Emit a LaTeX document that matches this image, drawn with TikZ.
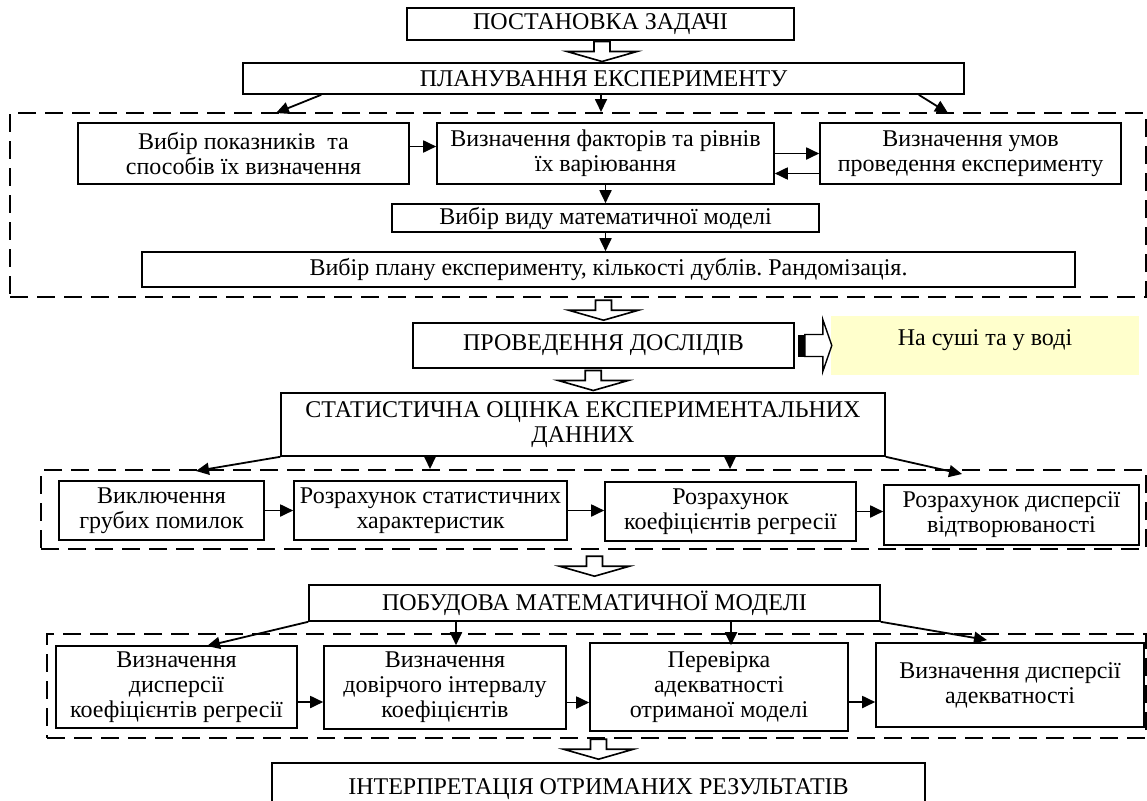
\documentclass[tikz,border=0pt]{standalone}
\usepackage{fontspec}
\setmainfont{Liberation Serif}
\usetikzlibrary{arrows.meta,positioning,calc}
\definecolor{dryfill}{RGB}{255,255,204}
\frenchspacing

\begin{document}
\begin{tikzpicture}[x=1pt,y=-1pt,
  box/.style={draw,line width=1.6pt,inner sep=1pt,align=center,font=\fontsize{24}{25}\selectfont},
  frame/.style={draw,line width=2pt,dash pattern=on 18pt off 9pt},
  arr/.style={-{Triangle[length=13pt,width=12pt]},line width=1.8pt},
  hdown/.pic={\draw[line width=1.6pt,fill=white] (-8,-10) -- (-8,0) -- (-35,0) -- (0,10) -- (35,0) -- (8,0) -- (8,-10) -- cycle;},
  hright/.pic={\fill (3,-11) rectangle (10,11);
    \draw[line width=1.4pt,fill=white] (10,-11) -- (28,-11) -- (28,-26) -- (37,0) -- (28,26) -- (28,11) -- (10,11) -- cycle;}]
\useasboundingbox (0,0) rectangle (1147,800);
\clip (0,0) rectangle (1147,800);

% planning
\node[box,minimum width=387pt,minimum height=32pt] (post) at (600.5,24) {ПОСТАНОВКА ЗАДАЧІ};
\node[box,minimum width=721pt,minimum height=31pt] (plan) at (603.5,78.5) {ПЛАНУВАННЯ ЕКСПЕРИМЕНТУ};
\node[frame,minimum width=1136pt,minimum height=184pt] (frame1) at (578,205) {};
\node[box,minimum width=331pt,minimum height=61pt] (pokaz) at (243.5,153.5) {Вибір показників~ та\\способів їх визначення};
\node[box,minimum width=337pt,minimum height=61pt] (faktor) at (605.5,153.5) {Визначення факторів та рівнів\\їх варіювання};
\node[box,minimum width=301pt,minimum height=61pt] (umov) at (970.5,153.5) {Визначення умов\\проведення експерименту};
\node[box,minimum width=427pt,minimum height=28pt] (vyd) at (605.5,218) {Вибір виду математичної моделі};
\node[box,minimum width=933pt,minimum height=35pt] (planexp) at (608.5,269.5) {Вибір плану експерименту, кількості дублів. Рандомізація.};

% experiments
\node[box,minimum width=381pt,minimum height=45pt] (dosl) at (603.5,345.5) {ПРОВЕДЕННЯ ДОСЛІДІВ};
\node[box,draw=none,fill=dryfill,minimum width=308pt,minimum height=59pt,text depth=16pt] (dry) at (985,345.5) {На суші та у воді};

% statistics
\node[box,minimum width=604pt,minimum height=63pt] (stat) at (583,424.5) {СТАТИСТИЧНА ОЦІНКА ЕКСПЕРИМЕНТАЛЬНИХ\\ДАННИХ};
\node[frame,minimum width=1105pt,minimum height=79pt] (frame2) at (593.5,509.5) {};
\node[box,minimum width=205pt,minimum height=59pt] (vykl) at (161.5,510.5) {Виключення\\грубих помилок};
\node[box,minimum width=273pt,minimum height=59pt] (rozst) at (430.5,510.5) {Розрахунок статистичних\\характеристик};
\node[box,minimum width=251pt,minimum height=59pt] (koef) at (730.5,511.5) {Розрахунок\\коефіцієнтів регресії};
\node[box,minimum width=255pt,minimum height=60pt] (vidtv) at (1011.5,515) {Розрахунок дисперсії\\відтворюваності};

% model
\node[box,minimum width=571pt,minimum height=36pt] (pobud) at (594.5,603) {ПОБУДОВА МАТЕМАТИЧНОЇ МОДЕЛІ};
\node[frame,minimum width=1099pt,minimum height=104pt] (frame3) at (596.5,686) {};
\node[box,minimum width=241pt,minimum height=82pt] (vdk) at (176.5,687) {Визначення\\дисперсії\\коефіцієнтів регресії};
\node[box,minimum width=242pt,minimum height=83pt] (dov) at (445,687.5) {Визначення\\довірчого інтервалу\\коефіцієнтів};
\node[box,minimum width=258pt,minimum height=88pt] (perev) at (719,687) {Перевірка\\адекватності\\отриманої моделі};
\node[box,minimum width=268pt,minimum height=84pt] (vda) at (1010,685) {Визначення дисперсії\\адекватності};
\node[box,minimum width=653pt,minimum height=52pt] (interp) at (598.5,789) {ІНТЕРПРЕТАЦІЯ ОТРИМАНИХ РЕЗУЛЬТАТІВ};

% free ends of the branching arrows
\coordinate (p1) at (276,113);
\coordinate (p3) at (948,113);
\coordinate (s1) at (196,471);
\coordinate (s4) at (962,474);
\coordinate (m1) at (207,646);
\coordinate (m4) at (987,640);

% block arrows
\pic at ($(post.south)!.5!(plan.north)$) {hdown};
\pic at ([yshift=12pt]dosl.north) {hdown};
\pic at ($(dosl.south)!.5!(stat.north)$) {hdown};
\pic at ([yshift=18pt]pobud.north) {hdown};
\pic at ([yshift=13pt]interp.north) {hdown};
\pic at (dosl.east) {hright};

% arrows
\draw[arr] ([xshift=79pt]plan.south west) -- (p1);
\draw[arr] (plan.south -| 601,0) -- (frame1.north -| 601,0);
\draw[arr] ([xshift=-46pt]plan.south east) -- (p3);
\draw[arr] ([yshift=7pt]pokaz.east) -- ([yshift=7pt]faktor.west);
\draw[arr] (faktor.east) -- (umov.west);
\draw[arr] ([yshift=-20pt]umov.west) -- ([yshift=-20pt]faktor.east);
\draw[arr] (faktor.south) -- (vyd.north);
\draw[arr] (vyd.south) -- (vyd.south |- planexp.north);

\draw[arr] (stat.south west) -- (s1);
\draw[arr] (stat.south -| 430,0) -- (frame2.north -| 430,0);
\draw[arr] (stat.south -| 730,0) -- (frame2.north -| 730,0);
\draw[arr] (stat.south east) -- (s4);
\draw[arr] (vykl.east) -- (vykl.east -| rozst.west);
\draw[arr] (rozst.east) -- (rozst.east -| koef.west);
\draw[arr] (koef.east) -- (koef.east -| vidtv.west);

\draw[arr] (pobud.south west) -- (m1);
\draw[arr] (pobud.south -| 456,0) -- (vdk.north -| 456,0);
\draw[arr] (pobud.south -| 731,0) -- (vdk.north -| 731,0);
\draw[arr] (pobud.south east) -- (m4);
\draw[arr] ([yshift=-15pt]vdk.east) -- ([yshift=-15pt]vdk.east -| dov.west);
\draw[arr] ([yshift=-15pt]dov.east) -- ([yshift=-15pt]dov.east -| perev.west);
\draw[arr] ([yshift=-15pt]perev.east) -- ([yshift=-15pt]perev.east -| vda.west);
\end{tikzpicture}
\end{document}
